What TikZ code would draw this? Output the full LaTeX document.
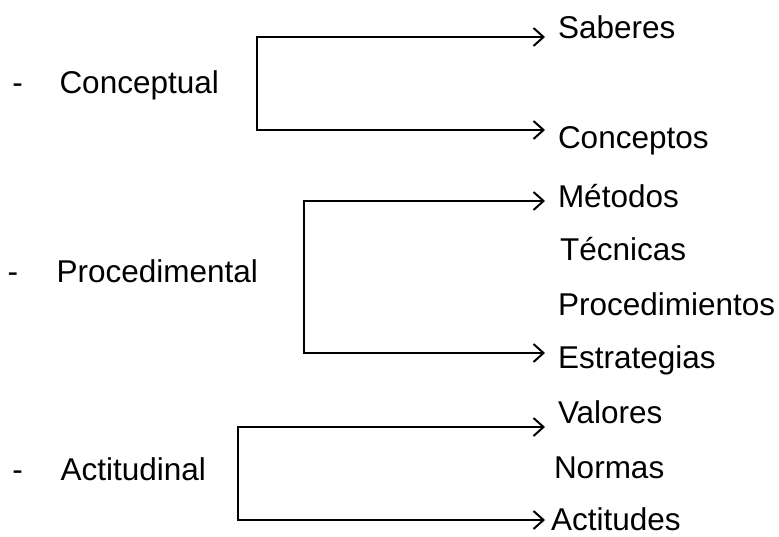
\documentclass[tikz,border=0pt]{standalone}
\usepackage{fontspec}
\setmainfont{Liberation Sans}
\usetikzlibrary{arrows.meta,positioning}
\tikzstyle{tipo}=[
	anchor=base west,
	inner sep=0,
	font=\fontsize{31.5}{36}\selectfont]
\tikzstyle{elem}=[
	anchor=base west,
	inner ysep=0,
	inner xsep=12,
	font=\fontsize{31.5}{36}\selectfont]

\begin{document}
\begin{tikzpicture}[x=1pt,y=-1pt,>={Straight Barb[length=10pt,width=18pt]},line width=2pt]
		\useasboundingbox (0,0) rectangle (779,536);
		% conceptual
		\node[tipo] (g1) at (11.5,93) {-};
		\node[tipo] (conc) at (58.5,93) {Conceptual};
		\node[elem] (sab) at (545,38) {Saberes};
		\node[elem] (cpt) at (545,148) {Conceptos};
		\coordinate (c1) at (257,37);
		\coordinate (c2) at (257,130);
		\draw[<->] (c1 -| sab.west) -- (c1) -- (c2) -- (c2 -| cpt.west);
		% procedimental
		\node[tipo] (g2) at (6.5,282) {-};
		\node[tipo] (proc) at (55.5,282) {Procedimental};
		\node[elem] (met) at (545,207) {Métodos};
		\node[elem] (tec) at (547,260) {Técnicas};
		\node[elem] (pro) at (545,315) {Procedimientos};
		\node[elem] (est) at (545,368) {Estrategias};
		\coordinate (p1) at (304,201);
		\coordinate (p2) at (304,353);
		\draw[<->] (p1 -| met.west) -- (p1) -- (p2) -- (p2 -| est.west);
		% actitudinal
		\node[tipo] (g3) at (11.5,480) {-};
		\node[tipo] (acti) at (59.5,480) {Actitudinal};
		\node[elem] (val) at (545,423) {Valores};
		\node[elem] (nor) at (541,478) {Normas};
		\node[elem,inner xsep=5] (act) at (545,530) {Actitudes};
		\coordinate (a1) at (238,427);
		\coordinate (a2) at (238,520);
		\draw[<->] (a1 -| val.west) -- (a1) -- (a2) -- (a2 -| act.west);
	\end{tikzpicture}
\end{document}
